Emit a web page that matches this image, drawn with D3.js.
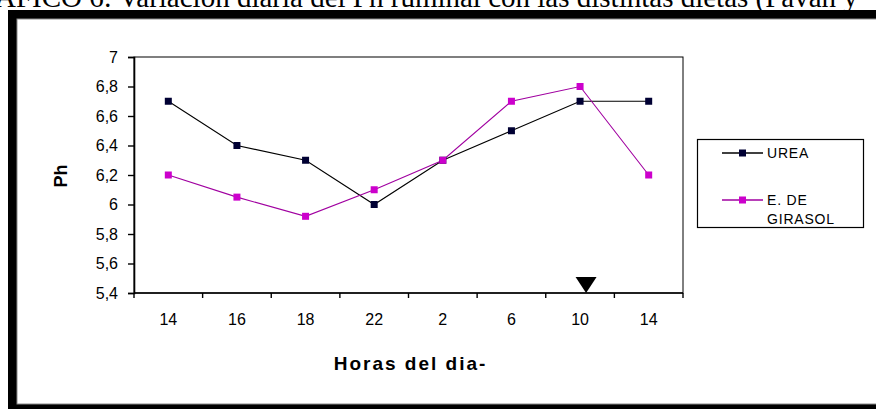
<!DOCTYPE html>
<html>
<head>
<meta charset="utf-8">
<script src="https://cdn.jsdelivr.net/npm/d3@7"></script>
<style>
  html, body { margin: 0; padding: 0; background: #fff; overflow: hidden; }
  svg { display: block; }
</style>
</head>
<body>
<svg id="chart" width="876" height="409"></svg>
<script>
// Hours of sampling (x categories)
const hours = ["14", "16", "18", "22", "2", "6", "10", "14"];

// Ruminal pH for each diet
const urea     = [6.7, 6.4, 6.3, 6.0, 6.3, 6.5, 6.7, 6.7];
const girasol  = [6.2, 6.05, 5.92, 6.1, 6.3, 6.7, 6.8, 6.2];

// Y axis ticks and their labels
const yTicks      = [5.4, 5.6, 5.8, 6.0, 6.2, 6.4, 6.6, 6.8, 7.0];
const yTickLabels = ["5,4", "5,6", "5,8", "6", "6,2", "6,4", "6,6", "6,8", "7"];

const seriesNames = ["UREA", "E. DE GIRASOL"];

// Position of the feeding marker (index of the hour category)
const markerHourIndex = 6;

const svg = d3.select("#chart");
const W = 876, H = 409;
const sans = "'Liberation Sans', Arial, sans-serif";

// Page caption, partly outside the visible area
const title = svg.append("text")
  .attr("y", 7)
  .attr("font-family", "'Liberation Serif', 'Times New Roman', serif")
  .attr("font-size", 29)
  .attr("fill", "#000")
  .text("GRÁFICO 6: Variación diaria del Ph ruminal con las distintas dietas (Pavan y");
// shift so that the first two letters fall off the left edge
const probe = svg.append("text")
  .attr("font-family", "'Liberation Serif', 'Times New Roman', serif")
  .attr("font-size", 29).text("GR");
const grW = probe.node().getComputedTextLength();
probe.remove();
title.attr("x", -grW - 5);

// Thick black frame around the chart object
svg.append("rect").attr("x", 8).attr("y", 10).attr("width", W).attr("height", H).attr("fill", "#000");
svg.append("rect").attr("x", 17).attr("y", 19).attr("width", W).attr("height", 385)
  .attr("fill", "#fff").attr("stroke", "#8a8a8a").attr("stroke-width", 1);

// Plot area
const plot = { left: 134, right: 683, top: 57, bottom: 293 };

const x = d3.scaleBand()
  .domain(d3.range(hours.length))
  .range([plot.left, plot.right])
  .padding(0);
const cx = i => x(i) + x.bandwidth() / 2;

const y = d3.scaleLinear()
  .domain([5.4, 7])
  .range([plot.bottom, plot.top]);

// Plot border (top and right)
svg.append("rect")
  .attr("x", plot.left).attr("y", plot.top)
  .attr("width", plot.right - plot.left).attr("height", plot.bottom - plot.top)
  .attr("fill", "none").attr("stroke", "#000").attr("stroke-width", 1);

// Y axis
const yAxis = d3.axisLeft(y)
  .tickValues(yTicks)
  .tickSize(6)
  .tickPadding(10)
  .tickFormat((d, i) => yTickLabels[i]);
const gy = svg.append("g")
  .attr("transform", `translate(${plot.left},0)`)
  .call(yAxis);
gy.select(".domain").attr("stroke-width", 1.6);
gy.selectAll(".tick line").attr("stroke-width", 1.4);
gy.selectAll("text")
  .attr("font-family", sans).attr("font-size", 16).attr("fill", "#000");

// X axis: labels centred in each category (band axis), tick marks on the boundaries
const xAxis = d3.axisBottom(x)
  .tickSize(0)
  .tickPadding(21)
  .tickFormat(i => hours[i]);
const gx = svg.append("g")
  .attr("transform", `translate(0,${plot.bottom})`)
  .call(xAxis);
gx.select(".domain").remove();
gx.selectAll("text")
  .attr("font-family", sans).attr("font-size", 16).attr("fill", "#000");

svg.append("line")
  .attr("x1", plot.left).attr("x2", plot.right)
  .attr("y1", plot.bottom).attr("y2", plot.bottom)
  .attr("stroke", "#000").attr("stroke-width", 1.6);
svg.append("g").selectAll("line")
  .data(d3.range(hours.length + 1))
  .join("line")
  .attr("x1", i => i < hours.length ? x(i) : plot.right)
  .attr("x2", i => i < hours.length ? x(i) : plot.right)
  .attr("y1", plot.bottom).attr("y2", plot.bottom + 5)
  .attr("stroke", "#000").attr("stroke-width", 1.4);

// Axis titles
svg.append("text")
  .attr("transform", `translate(67,176) rotate(-90)`)
  .attr("text-anchor", "middle")
  .attr("font-family", sans).attr("font-weight", "bold").attr("font-size", 18)
  .text("Ph");
svg.append("text")
  .attr("x", (plot.left + plot.right) / 2 + 2).attr("y", 370)
  .attr("text-anchor", "middle")
  .attr("font-family", sans).attr("font-weight", "bold").attr("font-size", 19)
  .attr("letter-spacing", 2)
  .text("Horas del dia-");

// Series
const series = [
  { name: seriesNames[0], values: urea,    line: "#000000", mark: "#000033" },
  { name: seriesNames[1], values: girasol, line: "#a000a0", mark: "#cc00cc" }
];
const lineGen = d3.line().x((d, i) => cx(i)).y(d => y(d));

series.forEach(s => {
  svg.append("path")
    .attr("d", lineGen(s.values))
    .attr("fill", "none")
    .attr("stroke", s.line)
    .attr("stroke-width", 1.1);
});
series.forEach(s => {
  svg.append("g").selectAll("rect")
    .data(s.values)
    .join("rect")
    .attr("x", (d, i) => cx(i) - 3.5)
    .attr("y", d => y(d) - 3.5)
    .attr("width", 7).attr("height", 7)
    .attr("fill", s.mark);
});

// Feeding-time marker on the x axis
const mx = cx(markerHourIndex) + 6;
svg.append("path")
  .attr("d", `M${mx - 10.5},${plot.bottom - 16} L${mx + 10.5},${plot.bottom - 16} L${mx},${plot.bottom} Z`)
  .attr("fill", "#000");

// Legend
const lg = svg.append("g");
lg.append("rect")
  .attr("x", 697.5).attr("y", 139.5).attr("width", 166).attr("height", 88)
  .attr("fill", "#fff").attr("stroke", "#000").attr("stroke-width", 1.2);
const legendRows = [
  { s: series[0], y: 153, lines: ["UREA"] },
  { s: series[1], y: 200, lines: ["E. DE", "GIRASOL"] }
];
legendRows.forEach(r => {
  lg.append("line")
    .attr("x1", 722).attr("x2", 763).attr("y1", r.y).attr("y2", r.y)
    .attr("stroke", r.s.line).attr("stroke-width", 1.3);
  lg.append("rect")
    .attr("x", 739).attr("y", r.y - 3.5).attr("width", 7).attr("height", 7)
    .attr("fill", r.s.mark);
  const t = lg.append("text")
    .attr("x", 767).attr("y", r.y + 5)
    .attr("font-family", sans).attr("font-size", 14).attr("letter-spacing", 0.8);
  r.lines.forEach((ln, k) => {
    t.append("tspan").attr("x", 767).attr("dy", k === 0 ? 0 : 19).text(ln);
  });
});
</script>
</body>
</html>
